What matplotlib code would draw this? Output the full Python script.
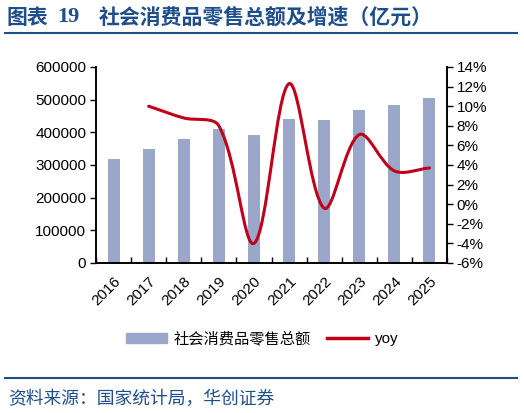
import numpy as np
import matplotlib
matplotlib.use("Agg")
from matplotlib import pyplot as plt
from matplotlib.path import Path
from matplotlib.patches import PathPatch, Patch
from matplotlib.lines import Line2D

plt.rcParams['font.family'] = ['Liberation Sans', 'Noto Sans CJK SC', 'DejaVu Sans']

years = ['2016', '2017', '2018', '2019', '2020', '2021', '2022', '2023', '2024', '2025']
retail = [317400, 348800, 379300, 408900, 391600, 440400, 438300, 468800, 485200, 503600]
yoy_years = ['2017', '2018', '2019', '2020', '2021', '2022', '2023', '2024', '2025']
yoy = [10.0, 8.8, 8.0, -4.0, 12.3, -0.4, 7.1, 3.4, 3.7]

BLUE = '#1f4e8c'
BAR = '#9ba7c8'
RED = '#c0001a'
CJK = ['Noto Sans CJK SC', 'DejaVu Sans']

W, H = 524, 413
fig = plt.figure(figsize=(W / 100, H / 100), dpi=100)

# axes box in pixels
x0, x1, ytop, ybot = 96, 447, 67, 263
ax = fig.add_axes([x0 / W, 1 - ybot / H, (x1 - x0) / W, (ybot - ytop) / H])
ax2 = ax.twinx()

x = np.arange(len(years))
ax.bar(x, retail, width=0.34, color=BAR, zorder=2)
ax.set_xlim(-0.5, len(years) - 0.5)
ax.set_ylim(0, 600000)
ax.set_yticks(np.arange(0, 600001, 100000))
ax.set_yticklabels([str(v) for v in range(0, 600001, 100000)])
ax.set_xticks(x)
ax.set_xticklabels(years, rotation=45, ha='right', rotation_mode='anchor')
ax.set_xticks(np.arange(-0.5, len(years), 1.0), minor=True)
ax.tick_params(axis='x', which='major', length=0, pad=8, labelsize=11)
ax.tick_params(axis='x', which='minor', direction='in', length=4, width=1)
ax.tick_params(axis='y', direction='out', length=4, width=1, labelsize=11, pad=3)

ax2.set_ylim(-6, 14)
ax2.set_yticks(np.arange(-6, 15, 2))
ax2.set_yticklabels([f'{v}%' for v in range(-6, 15, 2)])
ax2.tick_params(axis='y', direction='out', length=4, width=1, labelsize=11, pad=3)

for a in (ax, ax2):
    a.spines['top'].set_visible(False)
    for s in ('left', 'right', 'bottom'):
        a.spines[s].set_linewidth(1.2)

# smoothed yoy line: bezier with control arms scaled by segment length (screen space)
px = np.array([years.index(y) for y in yoy_years], dtype=float)
pts = ax2.transData.transform(np.column_stack([px, yoy]))
n = len(pts)
verts = [pts[0]]
codes = [Path.MOVETO]
tension = 1.0 / 3.0
arms = []
for i in range(n):
    p0 = pts[i - 1] if i > 0 else pts[i]
    p2 = pts[i + 1] if i < n - 1 else pts[i]
    d0 = np.hypot(*(pts[i] - p0))
    d1 = np.hypot(*(p2 - pts[i]))
    tot = d0 + d1 if d0 + d1 > 0 else 1.0
    arms.append((pts[i] - tension * d0 / tot * (p2 - p0),
                 pts[i] + tension * d1 / tot * (p2 - p0)))
for i in range(n - 1):
    verts += [arms[i][1], arms[i + 1][0], pts[i + 1]]
    codes += [Path.CURVE4] * 3
verts = ax2.transData.inverted().transform(np.array(verts))
ax2.add_patch(PathPatch(Path(verts, codes), fill=False, edgecolor=RED,
                        linewidth=2.2, capstyle='round', zorder=3))

# title
fig.text(6 / W, 1 - 17 / H, '图表', family=CJK, fontsize=15,
         fontweight='bold', color=BLUE, va='center')
fig.text(57 / W, 1 - 17 / H, '19', family=['Liberation Serif'], fontsize=16,
         fontweight='bold', color=BLUE, va='center')
fig.text(99 / W, 1 - 17 / H, '社会消费品零售总额及增速（亿元）', family=CJK,
         fontsize=15, fontweight='bold', color=BLUE, va='center')
fig.add_artist(Line2D([5 / W, 517 / W], [1 - 33 / H] * 2, color=BLUE, lw=1.5))

# legend
handles = [Patch(color=BAR), Line2D([0], [0], color=RED, lw=2.5)]
leg = fig.legend(handles, ['社会消费品零售总额', 'yoy'], loc='center',
                 bbox_to_anchor=(0.5, 1 - 339 / H), ncol=2, frameon=False,
                 handlelength=2.7, handleheight=0.6, columnspacing=1.1,
                 handletextpad=0.4, fontsize=11)
leg.get_texts()[0].set_family(CJK)

fig.add_artist(Line2D([5 / W, 517 / W], [1 - 378 / H] * 2, color=BLUE, lw=1.5))
fig.text(8 / W, 1 - 399 / H, '资料来源：国家统计局，华创证券', family=CJK,
         fontsize=12.8, style='italic', color=BLUE, va='center')

fig.savefig('out.png', dpi=100)
